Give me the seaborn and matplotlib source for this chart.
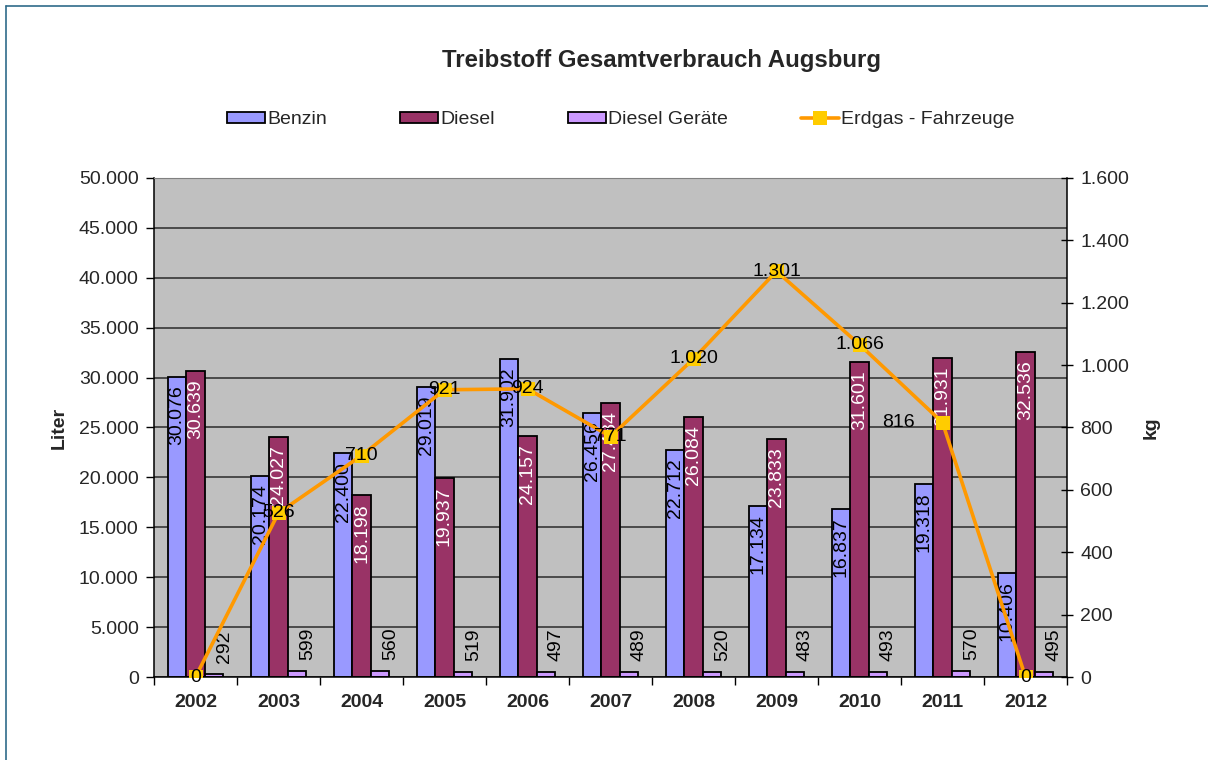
import numpy as np
import pandas as pd
import matplotlib
matplotlib.use("Agg")
import matplotlib.pyplot as plt
from matplotlib.patches import Patch
from matplotlib.lines import Line2D
from matplotlib.ticker import FuncFormatter, MultipleLocator
import seaborn as sns

# Daten
jahre = ['2002', '2003', '2004', '2005', '2006', '2007', '2008', '2009', '2010', '2011', '2012']
benzin = [30076, 20174, 22400, 29019, 31902, 26456, 22712, 17134, 16837, 19318, 10406]
diesel = [30639, 24027, 18198, 19937, 24157, 27484, 26084, 23833, 31601, 31931, 32536]
diesel_geraete = [292, 599, 560, 519, 497, 489, 520, 483, 493, 570, 495]
erdgas = [0, 526, 710, 921, 924, 771, 1020, 1301, 1066, 816, 0]

serien = ['Benzin', 'Diesel', 'Diesel Geräte']
farben = ['#9999FF', '#993366', '#CC99FF']
linien_farbe = '#FF9900'
marker_farbe = '#FFCC00'

df = pd.DataFrame({
    'Jahr': jahre * 3,
    'Treibstoff': [s for s in serien for _ in jahre],
    'Liter': benzin + diesel + diesel_geraete,
})


def de_fmt(v, pos=None):
    return f"{v:,.0f}".replace(",", ".")


sns.set_style("ticks")
plt.rcParams['font.family'] = ['Liberation Sans', 'DejaVu Sans']
FS = 14

fig = plt.figure(figsize=(12.08, 7.6), dpi=100)
ax = fig.add_axes([154 / 1208, 1 - 677 / 760, 913 / 1208, 499 / 760])
ax.set_facecolor('#C0C0C0')

sns.barplot(data=df, x='Jahr', y='Liter', hue='Treibstoff', hue_order=serien,
            palette=farben, saturation=1, width=0.667, gap=0,
            edgecolor='black', linewidth=1.3, legend=False, ax=ax)

ax.set_ylim(0, 50000)
ax.set_xlim(-0.5, len(jahre) - 0.5)
ax.yaxis.set_major_locator(MultipleLocator(5000))
ax.yaxis.set_major_formatter(FuncFormatter(de_fmt))
ax.set_axisbelow(True)
ax.yaxis.grid(True, color='#2b2b2b', linewidth=1.1)
ax.set_xlabel('')
ax.set_ylabel('Liter', fontsize=FS, fontweight='bold')
ax.yaxis.set_label_coords(-0.095, 0.5)

# x-Achse: Striche zwischen den Kategorien
ax.set_xticks(np.arange(-0.5, len(jahre), 1), minor=True)
ax.tick_params(axis='x', which='major', length=0, pad=12, labelsize=FS)
ax.tick_params(axis='x', which='minor', length=6, width=1, color='black')
for lab in ax.get_xticklabels():
    lab.set_fontweight('bold')
ax.tick_params(axis='y', length=6, width=1, pad=5, labelsize=FS, color='black')

for side in ['left', 'bottom']:
    ax.spines[side].set_color('black')
    ax.spines[side].set_linewidth(1.1)
ax.spines['top'].set_color('#808080')
ax.spines['right'].set_visible(False)

# Balkenbeschriftungen
for cont, farbe_txt, innen in zip(ax.containers, ['black', 'white', 'black'], [True, True, False]):
    for bar in cont:
        h = bar.get_height()
        xc = bar.get_x() + bar.get_width() / 2
        if innen:
            ax.annotate(de_fmt(h), (xc, h), xytext=(0, -6), textcoords='offset points',
                        rotation=90, ha='center', va='top', color=farbe_txt, fontsize=FS)
        else:
            ax.annotate(de_fmt(h), (xc, h), xytext=(7.5, 8), textcoords='offset points',
                        rotation=90, ha='center', va='bottom', color=farbe_txt, fontsize=FS)

# Erdgas auf zweiter Achse
ax2 = ax.twinx()
x_pos = np.arange(len(jahre))
sns.lineplot(x=x_pos, y=erdgas, ax=ax2, color=linien_farbe, linewidth=2.6,
             marker='s', markersize=10.5, markerfacecolor=marker_farbe,
             markeredgecolor=marker_farbe, markeredgewidth=0)
ax2.set_ylim(0, 1600)
ax2.yaxis.set_major_locator(MultipleLocator(200))
ax2.yaxis.set_major_formatter(FuncFormatter(de_fmt))
ax2.tick_params(axis='y', direction='inout', length=9, width=1, pad=5, labelsize=FS, color='black')
ax2.set_ylabel('kg', fontsize=FS, fontweight='bold')
ax2.yaxis.set_label_coords(1.083, 0.5)
for side in ['left', 'top', 'bottom']:
    ax2.spines[side].set_visible(False)
ax2.spines['right'].set_color('black')
ax2.spines['right'].set_linewidth(1.1)

label_dx = {9: -32}
for i, v in enumerate(erdgas):
    ax2.annotate(de_fmt(v), (i, v), xytext=(label_dx.get(i, 0), 0), textcoords='offset points',
                 ha='center', va='center', fontsize=FS, color='black', zorder=10)

# Legende
handles = [Patch(facecolor=c, edgecolor='black', linewidth=1.3) for c in farben]
handles.append(Line2D([0], [0], color=linien_farbe, linewidth=2.6, marker='s',
                      markersize=10, markerfacecolor=marker_farbe, markeredgewidth=0))
fig.legend(handles, serien + ['Erdgas - Fahrzeuge'], loc='center',
           bbox_to_anchor=(621 / 1208, 1 - 120 / 760), ncol=4, frameon=False,
           fontsize=FS, handlelength=1.95, handleheight=0.55, handletextpad=0.1,
           columnspacing=3.78)

fig.text(662 / 1208, 1 - 60 / 760, 'Treibstoff Gesamtverbrauch Augsburg',
         ha='center', va='center', fontsize=17.3, fontweight='bold')

# Rahmen (oben und links sichtbar)
fig.add_artist(Line2D([6 / 1208, 6 / 1208], [0, 1 - 6 / 760], transform=fig.transFigure,
                      color='#2F6B8A', linewidth=1.2))
fig.add_artist(Line2D([6 / 1208, 1], [1 - 6 / 760, 1 - 6 / 760], transform=fig.transFigure,
                      color='#2F6B8A', linewidth=1.2))

fig.savefig('out.png', dpi=100)
